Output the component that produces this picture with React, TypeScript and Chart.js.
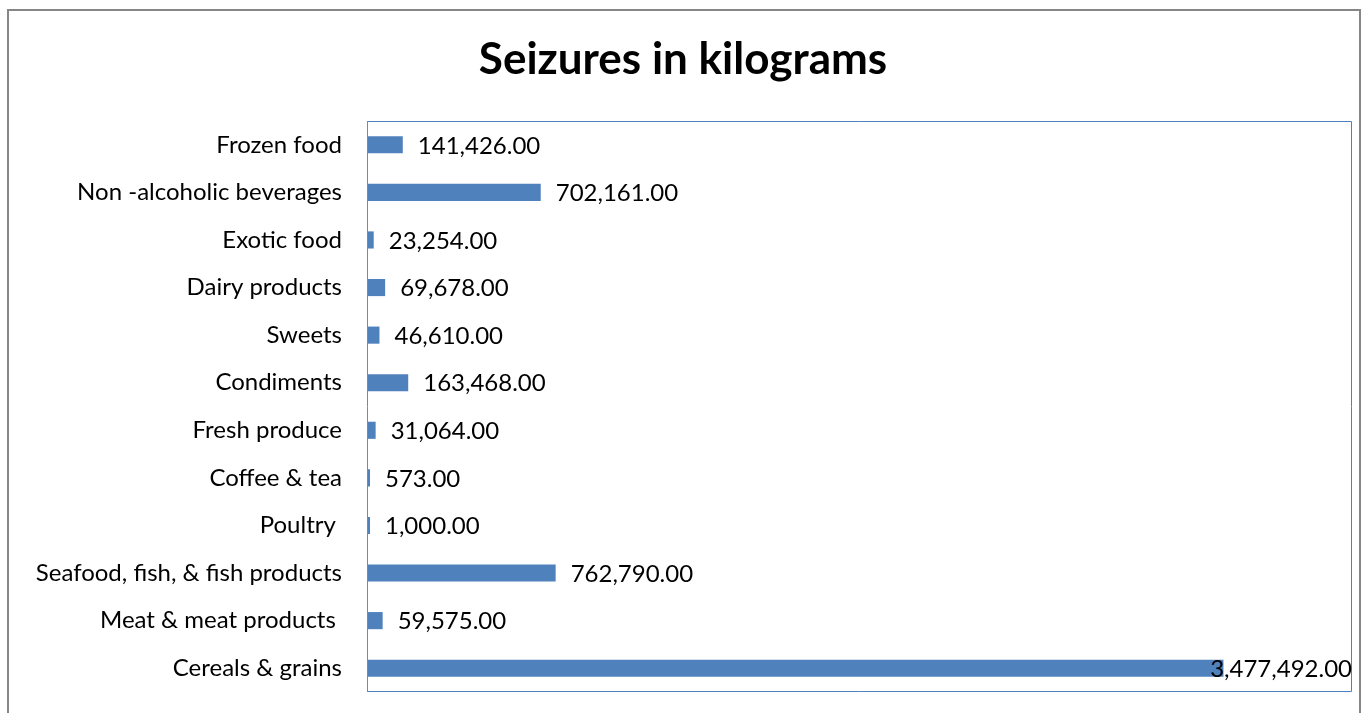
import React, { useEffect, useRef } from "react";
import { Chart, registerables } from "chart.js";
Chart.register(...registerables);

const categories = [
  "Frozen food",
  "Non -alcoholic beverages",
  "Exotic food",
  "Dairy products",
  "Sweets",
  "Condiments",
  "Fresh produce",
  "Coffee & tea",
  "Poultry ",
  "Seafood, fish, & fish products",
  "Meat & meat products ",
  "Cereals & grains",
];
const seizuresKg = [141426, 702161, 23254, 69678, 46610, 163468, 31064, 573, 1000, 762790, 59575, 3477492];
const axisMax = 4000000;
const titleText = "Seizures in kilograms";

const FONT = "Lato, 'Open Sans', sans-serif";

const fmt = (v: number) =>
  v.toLocaleString("en-US", { minimumFractionDigits: 2, maximumFractionDigits: 2 });

const decorPlugin = {
  id: "decor",
  beforeDatasetsDraw(chart: any) {
    const { ctx, chartArea } = chart;
    const { left, top, right, bottom } = chartArea;
    ctx.save();
    ctx.lineWidth = 1;
    ctx.strokeStyle = "#4F81BD";
    ctx.beginPath();
    ctx.moveTo(left, top + 0.5);
    ctx.lineTo(right - 0.5, top + 0.5);
    ctx.lineTo(right - 0.5, bottom - 0.5);
    ctx.lineTo(left, bottom - 0.5);
    ctx.stroke();
    ctx.strokeStyle = "#868686";
    ctx.beginPath();
    ctx.moveTo(left - 0.5, top);
    ctx.lineTo(left - 0.5, bottom);
    ctx.stroke();
    ctx.restore();
  },
  afterDatasetsDraw(chart: any) {
    const { ctx, chartArea } = chart;
    const meta = chart.getDatasetMeta(0);
    const data = chart.data.datasets[0].data as number[];
    ctx.save();
    ctx.font = `24px ${FONT}`;
    ctx.fillStyle = "#000000";
    ctx.textBaseline = "middle";
    ctx.textAlign = "left";
    meta.data.forEach((bar: any, i: number) => {
      const txt = fmt(data[i]);
      const w = ctx.measureText(txt).width;
      let x = Math.max(bar.x, chartArea.left) + 15;
      if (x + w > chartArea.right) x = chartArea.right - w;
      ctx.fillText(txt, x, bar.y + 1);
    });
    // title
    ctx.font = `bold 44px ${FONT}`;
    ctx.textAlign = "center";
    ctx.textBaseline = "middle";
    ctx.fillText(titleText, 683, 60);
    ctx.restore();
  },
};

export default function App() {
  const ref = useRef<HTMLCanvasElement>(null);
  useEffect(() => {
    if (!ref.current) return;
    const chart = new Chart(ref.current, {
      type: "bar",
      data: {
        labels: categories,
        datasets: [
          {
            data: seizuresKg,
            backgroundColor: "#4F81BD",
            borderWidth: 0,
            categoryPercentage: 1,
            barPercentage: 0.36,
            minBarLength: 2,
          },
        ],
      },
      options: {
        indexAxis: "y",
        animation: false,
        responsive: false,
        maintainAspectRatio: false,
        layout: { padding: { left: 0, right: 14, top: 121, bottom: 21 } },
        plugins: {
          legend: { display: false },
          tooltip: { enabled: false },
          title: { display: false },
        },
        scales: {
          x: { display: false, min: 0, max: axisMax },
          y: {
            grid: { display: false, drawTicks: false },
            border: { display: false },
            ticks: {
              color: "#000000",
              padding: 26,
              font: { family: FONT, size: 24 },
            },
            afterFit(scale: any) {
              scale.width = 368;
              scale.paddingTop = 0;
              scale.paddingBottom = 0;
            },
          },
        },
      },
      plugins: [decorPlugin],
    });
    return () => chart.destroy();
  }, []);
  return (
    <div style={{ position: "absolute", left: 0, top: 0, width: 1366, height: 713, overflow: "hidden", background: "#fff" }}>
      <canvas ref={ref} width={1366} height={713} style={{ position: "absolute", left: 0, top: 0 }} />
      <div
        style={{
          position: "absolute",
          left: 7,
          top: 9,
          width: 1354,
          height: 740,
          boxSizing: "border-box",
          border: "2px solid #868686",
          pointerEvents: "none",
        }}
      />
    </div>
  );
}
